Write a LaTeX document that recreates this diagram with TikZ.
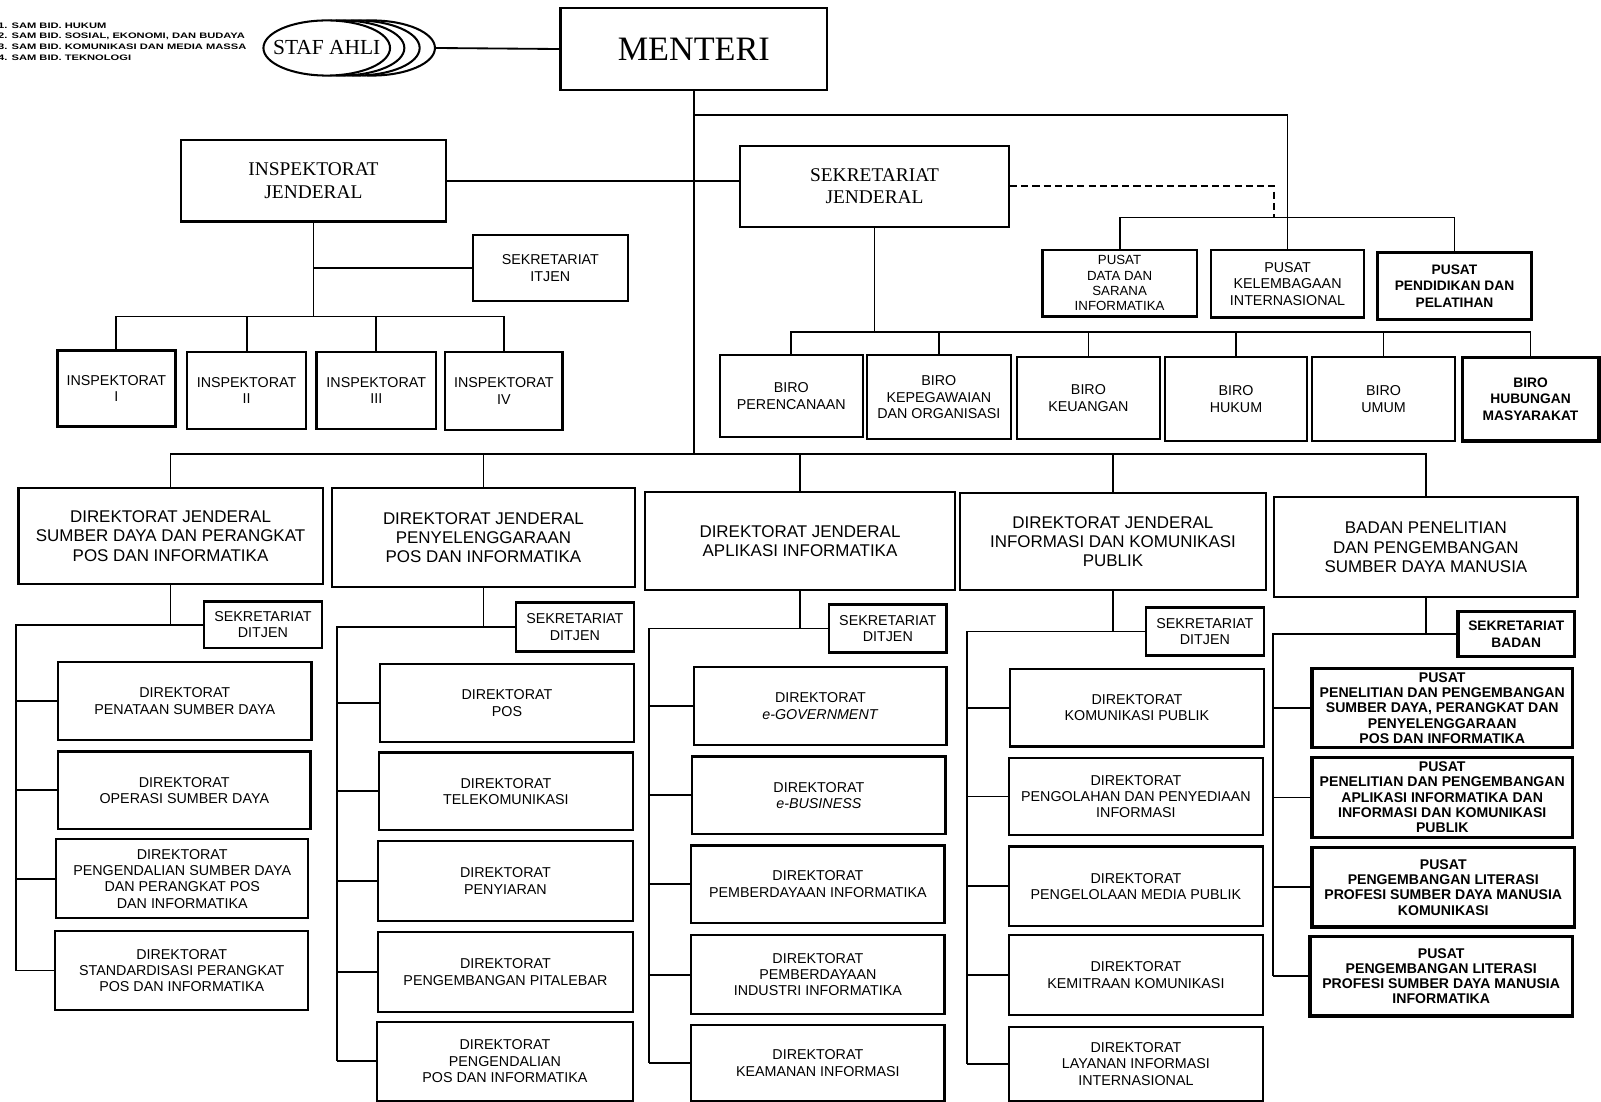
\documentclass[tikz,border=0pt]{standalone}
\usepackage{fontspec}
\setmainfont{Liberation Serif}
\newfontfamily\sansf{Liberation Sans}
\usetikzlibrary{shapes.geometric}
\newcommand{\fsm}{\sansf\fontsize{14}{16}\selectfont}
\newcommand{\fdj}{\sansf\fontsize{16.6}{19}\selectfont}
\newcommand{\fpb}{\sansf\bfseries\fontsize{13.8}{15}\selectfont}
\newcommand{\fhd}{\rmfamily\fontsize{19}{22}\selectfont}
\newcommand{\bx}[7][]{\node[box,minimum width={#5-#3},minimum height={#6-#4},#1] (#2) at ({(#3+#5)/2},{(#4+#6)/2}) {#7};}
\begin{document}
\begin{tikzpicture}[x=1pt,y=-1pt,
  box/.style={draw,line width=2.2pt,fill=white,inner sep=1pt,align=center,font=\fsm},
  tbox/.style={line width=3.2pt},
  conn/.style={line width=1.8pt},
  dj/.style={font=\fdj},
  pb/.style={font=\fpb},
  hd/.style={font=\fhd},
  leg/.style={anchor=west,inner sep=0pt,font=\sansf\bfseries\fontsize{7.8}{9}\selectfont},
  stafe/.style={ellipse,draw,fill=white,line width=2pt,minimum width=124,minimum height=54,inner sep=0pt}]
\useasboundingbox (0,0) rectangle (1568,1079);
% legend
\node[leg] (lg1) at (-2,25) {\scalebox{1.4}[1]{1. SAM BID. HUKUM}};
\node[leg] (lg2) at (-2,35.5) {\scalebox{1.4}[1]{2. SAM BID. SOSIAL, EKONOMI, DAN BUDAYA}};
\node[leg] (lg3) at (-2,46) {\scalebox{1.4}[1]{3. SAM BID. KOMUNIKASI DAN MEDIA MASSA}};
\node[leg] (lg4) at (-2,56.5) {\scalebox{1.4}[1]{4. SAM BID. TEKNOLOGI}};
% staf ahli
\node[stafe] (staf4) at (364,47) {};
\node[stafe] (staf3) at (349,47) {};
\node[stafe] (staf2) at (334,47) {};
\node[stafe,font=\rmfamily\fontsize{21}{24}\selectfont] (staf) at (320,47) {\makebox[0pt]{STAF AHLI}};
% top
\bx[font=\rmfamily\fontsize{33.5}{36}\selectfont]{menteri}{549}{8}{810}{88}{MENTERI}
\bx[hd]{ij}{177}{137}{437}{217}{INSPEKTORAT\\JENDERAL}
\bx[hd]{sj}{725}{143}{988}{222}{SEKRETARIAT\\JENDERAL}
\bx{sitjen}{463}{230}{615}{295}{SEKRETARIAT\\ITJEN}
% inspektorat
\bx[tbox]{i1}{56}{343}{172}{418}{INSPEKTORAT\\I}
\bx{i2}{183}{345}{300}{420}{INSPEKTORAT\\II}
\bx{i3}{310}{345}{427}{420}{INSPEKTORAT\\III}
\bx{i4}{436}{345}{551}{421}{INSPEKTORAT\\IV}
% pusat
\bx[font=\sansf\fontsize{13}{15}\selectfont]{p1}{1021}{245}{1172}{310}{PUSAT\\DATA DAN\\SARANA\\INFORMATIKA}
\bx{p2}{1186}{245}{1336}{311}{PUSAT\\KELEMBAGAAN\\INTERNASIONAL}
\bx[tbox,font=\sansf\bfseries\fontsize{13.5}{16}\selectfont]{p3}{1349}{247}{1500}{313}{PUSAT\\PENDIDIKAN DAN\\PELATIHAN}
% biro
\bx{b1}{705}{348}{845}{428}{BIRO\\PERENCANAAN}
\bx{b2}{849}{348}{990}{430}{BIRO\\KEPEGAWAIAN\\DAN ORGANISASI}
\bx{b3}{996}{350}{1136}{430}{BIRO\\KEUANGAN}
\bx{b4}{1141}{350}{1280}{432}{BIRO\\HUKUM}
\bx{b5}{1285}{350}{1425}{432}{BIRO\\UMUM}
\bx[tbox,font=\sansf\bfseries\fontsize{13.5}{16}\selectfont]{b6}{1432}{350}{1566}{432}{BIRO\\HUBUNGAN\\MASYARAKAT}
% direktorat jenderal
\bx[dj]{d1}{18}{478}{316}{572}{DIREKTORAT JENDERAL\\SUMBER DAYA DAN PERANGKAT\\POS DAN INFORMATIKA}
\bx[dj]{d2}{325}{478}{622}{575}{DIREKTORAT JENDERAL\\PENYELENGGARAAN\\POS DAN INFORMATIKA}
\bx[dj]{d3}{632}{482}{935}{578}{DIREKTORAT JENDERAL\\APLIKASI INFORMATIKA}
\bx[dj]{d4}{940}{483}{1240}{578}{DIREKTORAT JENDERAL\\INFORMASI DAN KOMUNIKASI\\PUBLIK}
\bx[dj]{d5}{1248}{487}{1545}{585}{BADAN PENELITIAN\\DAN PENGEMBANGAN\\SUMBER DAYA MANUSIA}
% sekretariat ditjen
\bx{s1}{200}{589}{315}{635}{SEKRETARIAT\\DITJEN}
\bx{s2}{505}{590}{621}{638}{SEKRETARIAT\\DITJEN}
\bx{s3}{812}{592}{927}{639}{SEKRETARIAT\\DITJEN}
\bx{s4}{1122}{595}{1238}{642}{SEKRETARIAT\\DITJEN}
\bx[tbox,font=\sansf\bfseries\fontsize{13.5}{16}\selectfont]{s5}{1428}{599}{1542}{643}{SEKRETARIAT\\BADAN}
% column 1
\bx{k11}{57}{648}{305}{725}{DIREKTORAT\\PENATAAN SUMBER DAYA}
\bx{k12}{57}{736}{304}{812}{DIREKTORAT\\OPERASI SUMBER DAYA}
\bx{k13}{55}{822}{302}{899}{DIREKTORAT\\PENGENDALIAN SUMBER DAYA\\DAN PERANGKAT POS\\DAN INFORMATIKA}
\bx{k14}{54}{912}{302}{989}{DIREKTORAT\\STANDARDISASI PERANGKAT\\POS DAN INFORMATIKA}
% column 2
\bx{k21}{372}{650}{621}{727}{DIREKTORAT\\POS}
\bx{k22}{371}{737}{620}{813}{DIREKTORAT\\TELEKOMUNIKASI}
\bx{k23}{370}{824}{620}{902}{DIREKTORAT\\PENYIARAN}
\bx{k24}{370}{913}{620}{991}{DIREKTORAT\\PENGEMBANGAN PITALEBAR}
\bx{k25}{369}{1001}{620}{1078}{DIREKTORAT\\PENGENDALIAN\\POS DAN INFORMATIKA}
% column 3
\bx{k31}{680}{653}{927}{730}{DIREKTORAT\\\textit{e-GOVERNMENT}}
\bx{k32}{678}{741}{926}{817}{DIREKTORAT\\\textit{e-BUSINESS}}
\bx{k33}{677}{828}{925}{904}{DIREKTORAT\\PEMBERDAYAAN INFORMATIKA}
\bx{k34}{677}{916}{925}{993}{DIREKTORAT\\PEMBERDAYAAN\\INDUSTRI INFORMATIKA}
\bx{k35}{677}{1004}{925}{1078}{DIREKTORAT\\KEAMANAN INFORMASI}
% column 4
\bx{k41}{989}{655}{1238}{731}{DIREKTORAT\\KOMUNIKASI PUBLIK}
\bx{k42}{988}{742}{1237}{818}{DIREKTORAT\\PENGOLAHAN DAN PENYEDIAAN\\INFORMASI}
\bx{k43}{988}{829}{1237}{907}{DIREKTORAT\\PENGELOLAAN MEDIA PUBLIK}
\bx{k44}{988}{916}{1237}{994}{DIREKTORAT\\KEMITRAAN KOMUNIKASI}
\bx{k45}{988}{1006}{1237}{1078}{DIREKTORAT\\LAYANAN INFORMASI\\INTERNASIONAL}
% column 5
\bx[tbox,pb]{k51}{1285}{655}{1540}{732}{PUSAT\\PENELITIAN DAN PENGEMBANGAN\\SUMBER DAYA, PERANGKAT DAN\\PENYELENGGARAAN\\POS DAN INFORMATIKA}
\bx[tbox,pb]{k52}{1285}{742}{1540}{820}{PUSAT\\PENELITIAN DAN PENGEMBANGAN\\APLIKASI INFORMATIKA DAN\\INFORMASI DAN KOMUNIKASI\\PUBLIK}
\bx[tbox,pb]{k53}{1285}{830}{1542}{908}{PUSAT\\PENGEMBANGAN LITERASI\\PROFESI SUMBER DAYA MANUSIA\\KOMUNIKASI}
\bx[tbox,pb]{k54}{1283}{917}{1540}{995}{PUSAT\\PENGEMBANGAN LITERASI\\PROFESI SUMBER DAYA MANUSIA\\INFORMATIKA}
% coordinates
\coordinate (djbus) at (679.5,445);
\coordinate (tp) at (679.5,113);
\coordinate (pbus) at (1261,213);
\coordinate (dend) at (1248,213);
\coordinate (ibus) at (307,310);
\coordinate (bbus) at (856.5,325);
\coordinate (sp1) at (16,0);
\coordinate (sp2) at (330,0);
\coordinate (sp3) at (636,0);
\coordinate (sp4) at (947,0);
\coordinate (sp5) at (1247,0);
% top connectors
\draw[conn] (staf4.east) -- (menteri.west);
\draw[conn] (menteri.south) -- (djbus);
\draw[conn] (tp) -| (pbus);
\draw[conn] (ij.east) -- (ij.east -| sj.west);
\draw[conn,dash pattern=on 7pt off 4pt] (sj.east) -| (dend);
\draw[conn] (p1.north) |- (pbus);
\draw[conn] (p3.north) |- (pbus);
\draw[conn] (p2.north) -- (pbus);
% inspektorat
\draw[conn] (ij.south) -- (ibus);
\draw[conn] (sitjen.west) -- (sitjen.west -| ij.south);
\foreach \n in {i1,i2,i3,i4} \draw[conn] (\n.north) |- (ibus);
% biro
\draw[conn] (sj.south) -- (bbus);
\foreach \n in {b1,b2,b3,b4,b5,b6} \draw[conn] (\n.north) |- (bbus);
% direktorat jenderal
\foreach \n in {d1,d2,d3,d4,d5} \draw[conn] (\n.north) |- (djbus);
% columns
\draw[conn] (d1.south) -- (d1.south |- s1.west);
\draw[conn] (s1.west) -| (sp1 |- k14.west);
\foreach \n in {k11,k12,k13,k14} \draw[conn] (\n.west) -- (\n.west -| sp1);
\draw[conn] (d2.south) -- (d2.south |- s2.west);
\draw[conn] (s2.west) -| (sp2 |- k25.west);
\foreach \n in {k21,k22,k23,k24,k25} \draw[conn] (\n.west) -- (\n.west -| sp2);
\draw[conn] (d3.south) -- (d3.south |- s3.west);
\draw[conn] (s3.west) -| (sp3 |- k35.west);
\foreach \n in {k31,k32,k33,k34,k35} \draw[conn] (\n.west) -- (\n.west -| sp3);
\draw[conn] (d4.south) -- (d4.south |- s4.west);
\draw[conn] (s4.west) -| (sp4 |- k45.west);
\foreach \n in {k41,k42,k43,k44,k45} \draw[conn] (\n.west) -- (\n.west -| sp4);
\draw[conn] (d5.south) -- (d5.south |- s5.west);
\draw[conn] (s5.west) -| (sp5 |- k54.west);
\foreach \n in {k51,k52,k53,k54} \draw[conn] (\n.west) -- (\n.west -| sp5);
\end{tikzpicture}
\end{document}
